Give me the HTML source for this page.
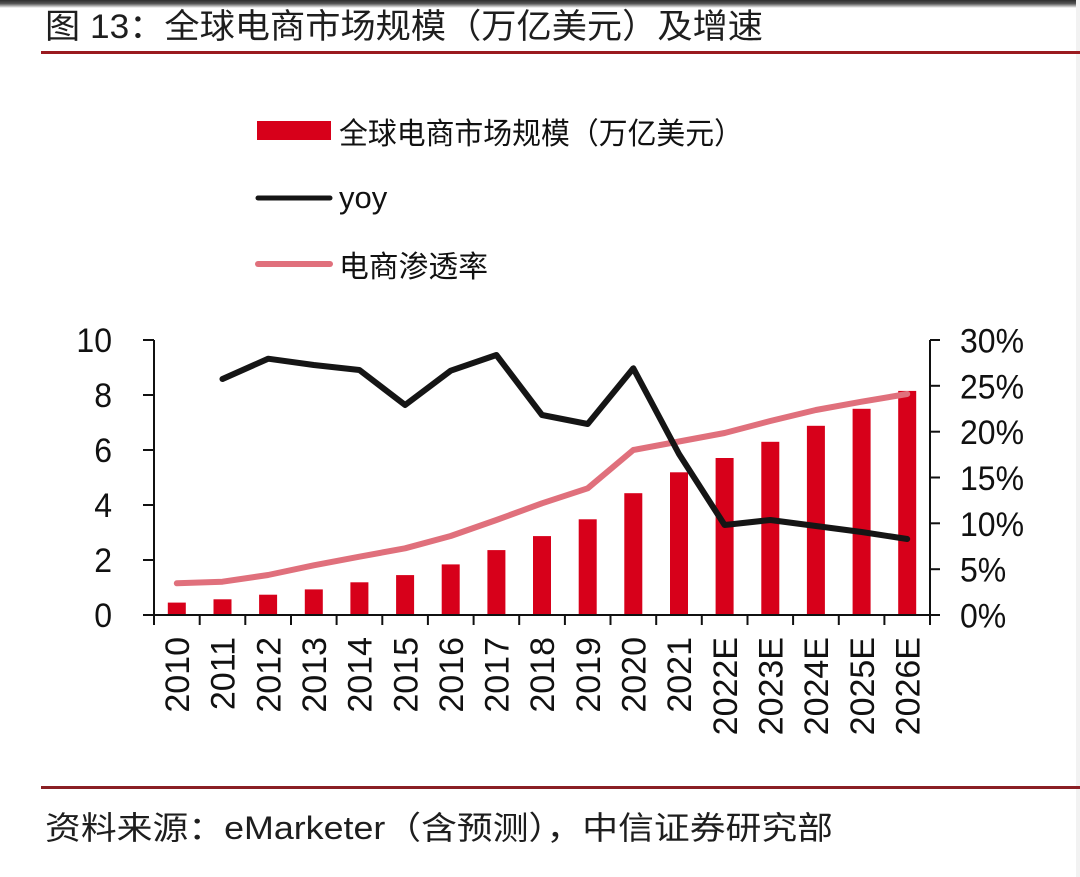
<!DOCTYPE html>
<html><head><meta charset="utf-8"><style>
html,body{margin:0;padding:0;background:#fff;}
svg{display:block;}
</style></head><body>
<svg width="1080" height="877" viewBox="0 0 1080 877" xmlns="http://www.w3.org/2000/svg">
<defs>
<linearGradient id="topg" x1="0" y1="0" x2="0" y2="1">
<stop offset="0" stop-color="#2e2e2e"/><stop offset="0.45" stop-color="#555"/><stop offset="1" stop-color="#fff"/>
</linearGradient>
</defs>
<rect x="0" y="0" width="1080" height="877" fill="#fff"/>
<rect x="0" y="0" width="1080" height="8" fill="url(#topg)"/>
<rect x="1076" y="0" width="4" height="877" fill="#f2f2f2"/>

<!-- Title -->
<text x="45" y="38" font-family="'Liberation Sans','Noto Sans CJK SC',sans-serif" font-size="34" fill="#1e1e1e" textLength="718" lengthAdjust="spacingAndGlyphs">图 13：全球电商市场规模（万亿美元）及增速</text>
<rect x="41" y="51" width="1039" height="3" fill="#9a1a1f"/>

<!-- Legend -->
<rect x="257" y="121" width="74" height="19" fill="#d7001a"/>
<text x="339" y="144" font-family="'Liberation Sans','Noto Sans CJK SC',sans-serif" font-size="30" fill="#111" textLength="404" lengthAdjust="spacingAndGlyphs">全球电商市场规模（万亿美元）</text>
<line x1="258" y1="198" x2="330" y2="198" stroke="#151515" stroke-width="5" stroke-linecap="round"/>
<text x="339" y="208" font-family="'Liberation Sans',sans-serif" font-size="31" fill="#111">yoy</text>
<line x1="258" y1="264" x2="330" y2="264" stroke="#e0707c" stroke-width="6" stroke-linecap="round"/>
<text x="339" y="277" font-family="'Liberation Sans','Noto Sans CJK SC',sans-serif" font-size="30" fill="#111" textLength="149" lengthAdjust="spacingAndGlyphs">电商渗透率</text>

<!-- Bars -->
<g fill="#d7001a">
<rect x="167.8" y="602.6" width="18" height="12.4"/>
<rect x="213.5" y="599.3" width="18" height="15.7"/>
<rect x="259.1" y="594.7" width="18" height="20.3"/>
<rect x="304.8" y="589.4" width="18" height="25.6"/>
<rect x="350.4" y="582.3" width="18" height="32.7"/>
<rect x="396.1" y="575.1" width="18" height="39.9"/>
<rect x="441.7" y="564.4" width="18" height="50.6"/>
<rect x="487.4" y="550.1" width="18" height="64.9"/>
<rect x="533.0" y="536.1" width="18" height="78.9"/>
<rect x="578.7" y="519.3" width="18" height="95.7"/>
<rect x="624.3" y="493.2" width="18" height="121.8"/>
<rect x="670.0" y="472.3" width="18" height="142.7"/>
<rect x="715.6" y="458.0" width="18" height="157.0"/>
<rect x="761.3" y="441.8" width="18" height="173.2"/>
<rect x="806.9" y="425.8" width="18" height="189.2"/>
<rect x="852.6" y="408.8" width="18" height="206.2"/>
<rect x="898.2" y="390.9" width="18" height="224.1"/>
</g>

<!-- Penetration line -->
<polyline fill="none" stroke="#e0707c" stroke-width="6" stroke-linejoin="round" stroke-linecap="round"
points="176.8,583.3 222.5,581.7 268.1,575 313.8,565.3 359.4,556.7 405.1,548.3 450.7,536 496.4,520 542,503.3 587.7,488.3 633.3,450 679,441.5 724.6,433 770.3,421 815.9,410 861.6,401.7 907.2,394"/>

<!-- YoY line -->
<polyline fill="none" stroke="#151515" stroke-width="6" stroke-linejoin="round" stroke-linecap="round"
points="222.5,379 268.1,358.7 313.8,365 359.4,370 405.1,405 450.7,370.7 496.4,355 542,415 587.7,424 633.3,368.3 679,454 724.6,525 770.3,520 815.9,526 861.6,532 907.2,539"/>

<!-- Axes -->
<g stroke="#111" stroke-width="2" fill="none">
<line x1="154" y1="340" x2="154" y2="616"/>
<line x1="930" y1="340" x2="930" y2="616"/>
<line x1="153" y1="615" x2="931" y2="615"/>
<line x1="143" y1="340" x2="154" y2="340"/>
<line x1="143" y1="395" x2="154" y2="395"/>
<line x1="143" y1="450" x2="154" y2="450"/>
<line x1="143" y1="505" x2="154" y2="505"/>
<line x1="143" y1="560" x2="154" y2="560"/>
<line x1="143" y1="615" x2="154" y2="615"/>
<line x1="930" y1="340" x2="940" y2="340"/>
<line x1="930" y1="385.8" x2="940" y2="385.8"/>
<line x1="930" y1="431.7" x2="940" y2="431.7"/>
<line x1="930" y1="477.5" x2="940" y2="477.5"/>
<line x1="930" y1="523.3" x2="940" y2="523.3"/>
<line x1="930" y1="569.2" x2="940" y2="569.2"/>
<line x1="930" y1="615" x2="940" y2="615"/>
<line x1="154" y1="615" x2="154" y2="625"/>
<line x1="199.7" y1="615" x2="199.7" y2="625"/>
<line x1="245.3" y1="615" x2="245.3" y2="625"/>
<line x1="291" y1="615" x2="291" y2="625"/>
<line x1="336.6" y1="615" x2="336.6" y2="625"/>
<line x1="382.3" y1="615" x2="382.3" y2="625"/>
<line x1="427.9" y1="615" x2="427.9" y2="625"/>
<line x1="473.6" y1="615" x2="473.6" y2="625"/>
<line x1="519.2" y1="615" x2="519.2" y2="625"/>
<line x1="564.9" y1="615" x2="564.9" y2="625"/>
<line x1="610.5" y1="615" x2="610.5" y2="625"/>
<line x1="656.2" y1="615" x2="656.2" y2="625"/>
<line x1="701.8" y1="615" x2="701.8" y2="625"/>
<line x1="747.5" y1="615" x2="747.5" y2="625"/>
<line x1="793.1" y1="615" x2="793.1" y2="625"/>
<line x1="838.8" y1="615" x2="838.8" y2="625"/>
<line x1="884.4" y1="615" x2="884.4" y2="625"/>
<line x1="930" y1="615" x2="930" y2="625"/>
</g>

<!-- Left labels -->
<g font-family="'Liberation Sans',sans-serif" font-size="32" fill="#111" text-anchor="end">
<text transform="translate(112,352) scale(1,1.07)">10</text>
<text transform="translate(112,407) scale(1,1.07)">8</text>
<text transform="translate(112,462) scale(1,1.07)">6</text>
<text transform="translate(112,517) scale(1,1.07)">4</text>
<text transform="translate(112,572) scale(1,1.07)">2</text>
<text transform="translate(112,627) scale(1,1.07)">0</text>
</g>
<!-- Right labels -->
<g font-family="'Liberation Sans',sans-serif" font-size="32" fill="#111" text-anchor="start">
<text transform="translate(960,352.5) scale(1,1.07)">30%</text>
<text transform="translate(960,398.3) scale(1,1.07)">25%</text>
<text transform="translate(960,444.2) scale(1,1.07)">20%</text>
<text transform="translate(960,490) scale(1,1.07)">15%</text>
<text transform="translate(960,535.8) scale(1,1.07)">10%</text>
<text transform="translate(960,581.7) scale(1,1.07)">5%</text>
<text transform="translate(960,627.5) scale(1,1.07)">0%</text>
</g>

<!-- X labels -->
<g font-family="'Liberation Sans',sans-serif" font-size="34" fill="#111" text-anchor="end">
<text transform="translate(189,637) rotate(-90)">2010</text>
<text transform="translate(234.7,637) rotate(-90)">2011</text>
<text transform="translate(280.3,637) rotate(-90)">2012</text>
<text transform="translate(326,637) rotate(-90)">2013</text>
<text transform="translate(371.6,637) rotate(-90)">2014</text>
<text transform="translate(417.3,637) rotate(-90)">2015</text>
<text transform="translate(462.9,637) rotate(-90)">2016</text>
<text transform="translate(508.6,637) rotate(-90)">2017</text>
<text transform="translate(554.2,637) rotate(-90)">2018</text>
<text transform="translate(599.9,637) rotate(-90)">2019</text>
<text transform="translate(645.5,637) rotate(-90)">2020</text>
<text transform="translate(691.2,637) rotate(-90)">2021</text>
<text transform="translate(736.8,637) rotate(-90)">2022E</text>
<text transform="translate(782.5,637) rotate(-90)">2023E</text>
<text transform="translate(828.1,637) rotate(-90)">2024E</text>
<text transform="translate(873.8,637) rotate(-90)">2025E</text>
<text transform="translate(919.4,637) rotate(-90)">2026E</text>
</g>

<!-- Source -->
<rect x="41" y="786" width="1039" height="3" fill="#8a1f24"/>
<text x="45" y="839" font-family="'Liberation Sans','Noto Sans CJK SC',sans-serif" font-size="32" fill="#1e1e1e" textLength="788" lengthAdjust="spacingAndGlyphs">资料来源：eMarketer（含预测），中信证券研究部</text>
</svg>
</body></html>
